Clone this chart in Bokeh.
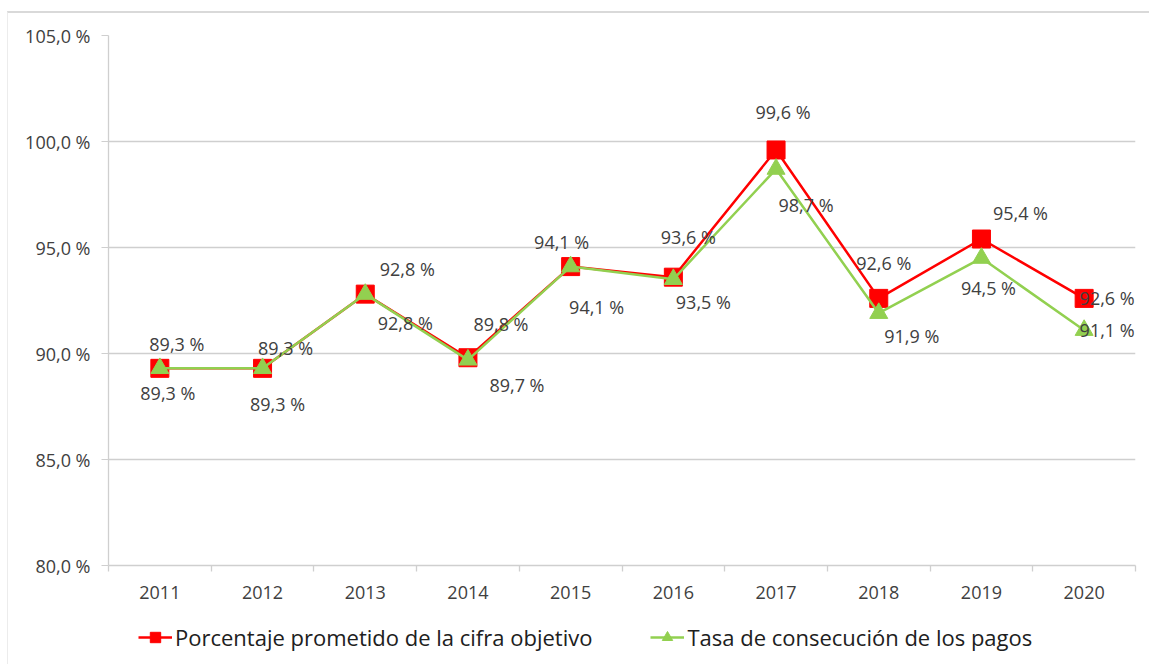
from bokeh.plotting import figure
from bokeh.layouts import column
from bokeh.models import FixedTicker, Legend, LegendItem, ColumnDataSource, Range1d
from bokeh.embed import file_html
from bokeh.resources import INLINE
from bokeh.core.properties import value

years = ["2011", "2012", "2013", "2014", "2015", "2016", "2017", "2018", "2019", "2020"]
prometido = [89.3, 89.3, 92.8, 89.8, 94.1, 93.6, 99.6, 92.6, 95.4, 92.6]
consecucion = [89.3, 89.3, 92.8, 89.7, 94.1, 93.5, 98.7, 91.9, 94.5, 91.1]
y_ticks = [80, 85, 90, 95, 100, 105]
name_prometido = "Porcentaje prometido de la cifra objetivo"
name_consecucion = "Tasa de consecución de los pagos"

# label placement (pixels, screen coordinates)
red_dx = [17, 23, 42, 33, -9, 15, 7, 5, 39, 23]
red_dy = [-24, -20, -25, -34, -25, -40, -38, -35, -26, 0]
green_dx = [8, 15, 40, 49, 26, 30, 30, 33, 7, 23]
green_dy = [25, 36, 29, 25, 40, 23, 36, 23, 30, 0]


def pct(v):
    return f"{v:.1f}".replace(".", ",") + " %"


FONT = "Open Sans"
TXT = "#404040"
GRID = "#cfcfcf"
RED = "#ff0000"
GREEN = "#92d050"

xs = [i + 0.5 for i in range(len(years))]

src = ColumnDataSource(dict(
    x=xs, prom=prometido, cons=consecucion,
    prom_lbl=[pct(v) for v in prometido], cons_lbl=[pct(v) for v in consecucion],
    rdx=red_dx, rdy=red_dy, gdx=green_dx, gdy=green_dy,
))

p = figure(width=1141, height=599,
           x_range=Range1d(0, len(years)), y_range=Range1d(y_ticks[0], y_ticks[-1]),
           output_backend="svg", toolbar_location=None,
           min_border_left=100, min_border_top=22, min_border_right=14, min_border_bottom=47)
p.outline_line_color = None
p.background_fill_color = "white"
p.border_fill_color = "white"

# grid
p.xgrid.grid_line_color = None
p.ygrid.grid_line_color = GRID
p.ygrid.grid_line_width = 1.3
p.ygrid.ticker = FixedTicker(ticks=y_ticks)

# y axis
p.yaxis.ticker = FixedTicker(ticks=y_ticks)
p.yaxis.major_label_overrides = {t: pct(t) for t in y_ticks}
p.yaxis.axis_line_color = GRID
p.yaxis.axis_line_width = 1.3
p.yaxis.major_tick_line_color = GRID
p.yaxis.major_tick_out = 7
p.yaxis.major_tick_in = 0
p.yaxis.minor_tick_line_color = None
p.yaxis.major_label_text_font = FONT
p.yaxis.major_label_text_font_size = "18px"
p.yaxis.major_label_text_color = TXT
p.yaxis.major_label_standoff = 11

# x axis
p.xaxis.ticker = FixedTicker(ticks=xs, minor_ticks=list(range(len(years) + 1)))
p.xaxis.major_label_overrides = {x: y for x, y in zip(xs, years)}
p.xaxis.axis_line_color = GRID
p.xaxis.axis_line_width = 1.3
p.xaxis.major_tick_line_color = None
p.xaxis.minor_tick_line_color = GRID
p.xaxis.minor_tick_line_width = 1.3
p.xaxis.minor_tick_out = 6
p.xaxis.minor_tick_in = 0
p.xaxis.major_label_text_font = FONT
p.xaxis.major_label_text_font_size = "18px"
p.xaxis.major_label_text_color = TXT
p.xaxis.major_label_standoff = 14


def draw_series(fig):
    r_line = fig.line("x", "prom", source=src, line_color=RED, line_width=2.5)
    r_mark = fig.scatter("x", "prom", source=src, marker="square", size=18,
                         fill_color=RED, line_color=RED)
    g_line = fig.line("x", "cons", source=src, line_color=GREEN, line_width=2.5)
    g_mark = fig.scatter("x", "cons", source=src, marker="triangle", size=18,
                         fill_color=GREEN, line_color=GREEN)
    return r_line, r_mark, g_line, g_mark


draw_series(p)

p.text("x", "prom", text="prom_lbl", source=src, x_offset="rdx", y_offset="rdy",
       text_align="center", text_baseline="middle", text_font=value(FONT),
       text_font_size="18px", text_color=TXT)
p.text("x", "cons", text="cons_lbl", source=src, x_offset="gdx", y_offset="gdy",
       text_align="center", text_baseline="middle", text_font=value(FONT),
       text_font_size="18px", text_color=TXT)

# legend strip below the chart (its own series copies sit outside its empty view)
lf = figure(width=1141, height=52, x_range=Range1d(-1, 0), y_range=Range1d(-1, 0),
            output_backend="svg", toolbar_location=None,
            x_axis_location=None, y_axis_location=None,
            min_border_left=0, min_border_right=0, min_border_top=0, min_border_bottom=0)
lf.outline_line_color = None
lf.xgrid.grid_line_color = None
lf.ygrid.grid_line_color = None
lr_line, lr_mark, lg_line, lg_mark = draw_series(lf)

legend = Legend(items=[
    LegendItem(label=name_prometido, renderers=[lr_line, lr_mark]),
    LegendItem(label=name_consecucion, renderers=[lg_line, lg_mark]),
], orientation="horizontal", location=(30, 12))
legend.border_line_color = None
legend.background_fill_alpha = 0
legend.label_text_font = FONT
legend.label_text_font_size = "22px"
legend.label_text_color = "#202020"
legend.glyph_width = 34
legend.glyph_height = 26
legend.label_standoff = 3
legend.spacing = 58
legend.margin = 0
legend.padding = 6
lf.add_layout(legend, "center")

layout = column(p, lf, spacing=0, styles={
    "margin-top": "11px", "margin-left": "7px",
    "border-top": "2px solid #d9d9d9", "border-left": "1px solid #ececec",
})
open("out.html", "w").write(file_html(layout, INLINE))
